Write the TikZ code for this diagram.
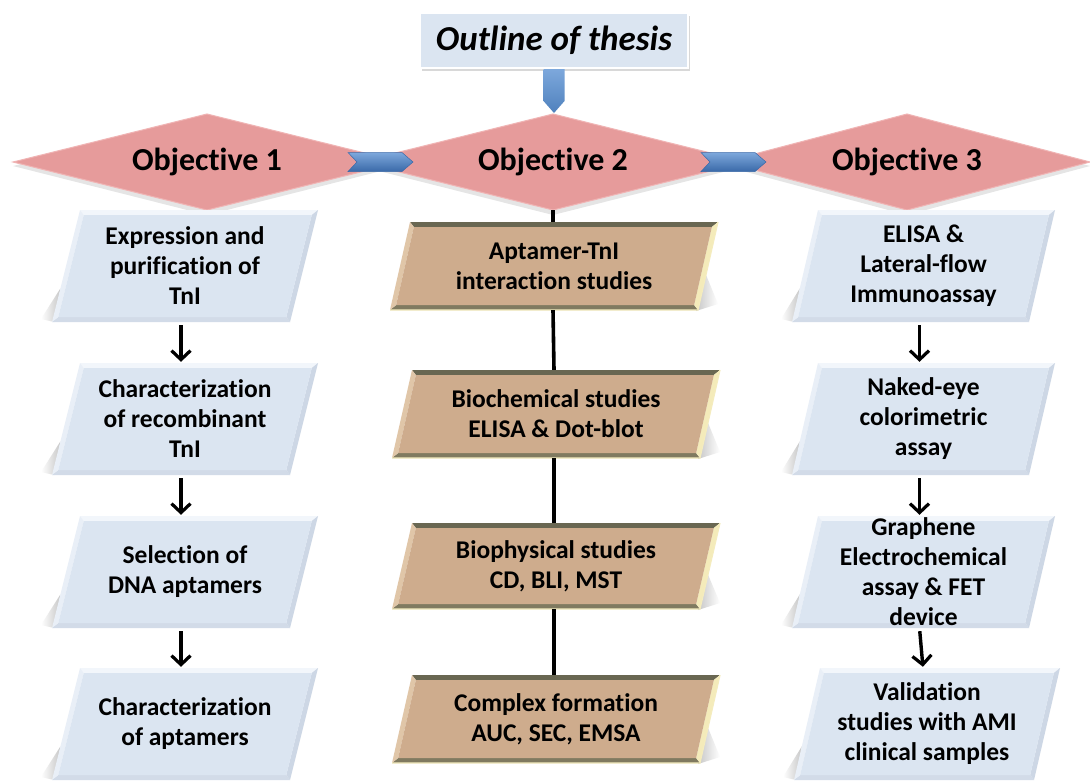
\documentclass[tikz,border=0pt]{standalone}
\usepackage{fontspec}
\setmainfont{Carlito}[Ligatures=NoCommon]
\usetikzlibrary{arrows.meta,calc,shadows}

\definecolor{blfill}{RGB}{219,229,241}
\definecolor{bltop}{RGB}{242,246,251}
\definecolor{blleft}{RGB}{233,239,247}
\definecolor{blright}{RGB}{205,215,229}
\definecolor{blbot}{RGB}{210,219,232}
\definecolor{brfill}{RGB}{206,172,141}
\definecolor{brtop}{RGB}{105,103,82}
\definecolor{brleft}{RGB}{224,198,168}
\definecolor{brright}{RGB}{244,235,186}
\definecolor{brbot}{RGB}{128,122,96}
\definecolor{bryel}{RGB}{244,236,190}
\definecolor{pinkd}{RGB}{230,155,155}
\definecolor{pinke}{RGB}{240,180,180}
\definecolor{arrblue}{RGB}{79,129,189}
\definecolor{arrlight}{RGB}{125,168,220}
\definecolor{arrdark}{RGB}{58,105,168}

\tikzset{
  boxtext/.style={align=center, inner sep=0pt, text=black,
    font=\bfseries\fontsize{25.5}{30}\selectfont},
  objtext/.style={inner sep=0pt, text=black,
    font=\bfseries\fontsize{32}{36}\selectfont},
  titlebox/.style={rectangle, fill=blfill, draw=white, line width=2pt,
    minimum width=268pt, minimum height=55pt, inner sep=0pt,
    drop shadow={opacity=.3, shadow xshift=2pt, shadow yshift=-3pt},
    font=\bfseries\itshape\fontsize{35}{40}\selectfont},
  arr/.style={line width=3.4pt, -{Straight Barb[length=9pt,width=19pt,line width=3.2pt]},
    shorten <=3pt, shorten >=1pt},
  vline/.style={line width=3.6pt},
  chevron/.style={top color=arrlight, bottom color=arrdark, draw=arrdark, line width=.5pt},
}

% parallelogram box with bevel: name, x0 (bottom-left x), top y, width, height, slant, scheme, text
\newcommand{\pbox}[8]{%
  \pgfmathsetmacro\pbB{#3+#5}%
  \pgfmathsetmacro\pbTLi{#2+#6*(#5-5)/#5+5}%
  \pgfmathsetmacro\pbBLi{#2+#6*5/#5+5}%
  \pgfmathsetmacro\pbTi{#3+5}%
  \pgfmathsetmacro\pbBi{#3+#5-5}%
  \pgfmathsetmacro\pbCx{#2+#6/2+#4/2}%
  \pgfmathsetmacro\pbCy{#3+#5/2}%
  \csname #7shadow\endcsname{#2}{#3}{#4}{#5}{#6}%
  \coordinate (BL) at (#2,\pbB);
  \coordinate (BR) at (#2+#4,\pbB);
  \coordinate (TR) at (#2+#6+#4,#3);
  \coordinate (TL) at (#2+#6,#3);
  \coordinate (iTL) at (\pbTLi,\pbTi);
  \coordinate (iTR) at (\pbTLi+#4-10,\pbTi);
  \coordinate (iBL) at (\pbBLi,\pbBi);
  \coordinate (iBR) at (\pbBLi+#4-10,\pbBi);
  \fill[#7top] (TL)--(TR)--(iTR)--(iTL)--cycle;
  \fill[#7bot] (BL)--(BR)--(iBR)--(iBL)--cycle;
  \fill[#7left] (TL)--(iTL)--(iBL)--(BL)--cycle;
  \fill[#7right] (TR)--(BR)--(iBR)--(iTR)--cycle;
  \fill[#7fill] (iTL)--(iTR)--(iBR)--(iBL)--cycle;
  \csname #7extra\endcsname
  \node[boxtext, minimum width=#4-20, minimum height=#5] (#1) at (\pbCx,\pbCy) {#8};
}
\newcommand{\blextra}{}
\newcommand{\brextra}{\draw[bryel, line width=1.2pt] (BL) -- (BR) -- (TR);}
\newcommand{\blshadow}[5]{%
  \shade[left color=white, right color=black!22]
    (#1+#5*0.3,#2+#4*0.7) -- (#1+2,#2+#4) -- (#1-11,#2+#4-3) -- cycle;}
\newcommand{\brshadow}[5]{%
  \shade[left color=black!22, right color=white]
    (#1+#3+#5*0.4,#2+#4*0.6) -- (#1+#3+20,#2+#4-6) -- (#1+#3-2,#2+#4+1) -- cycle;}

% diamond: name, cx, cy, half width, text
\newcommand{\diam}[5]{%
  \fill[black, opacity=.10] (#2-#4,#3+4) -- (#2,#3-44) -- (#2+#4,#3+4) -- (#2,#3+53) -- cycle;
  \fill[pinkd, draw=pinke, line width=1pt] (#2-#4,#3) -- (#2,#3-48) -- (#2+#4,#3) -- (#2,#3+48) -- cycle;
  \coordinate (#1b) at (#2,#3+48);
  \node[objtext] (#1) at (#2,#3) {#5};
}

\begin{document}
\begin{tikzpicture}[x=1pt, y=-1pt]
\useasboundingbox (0,0) rectangle (1090,780);
\fill[white] (0,0) rectangle (1090,780);
\clip (0,0) rectangle (1090,780);

% title
\node[titlebox] (title) at (554,40.5) {Outline of thesis};
\begin{scope}[shift={(title.south)}]
  \shade[top color=arrlight, bottom color=arrblue]
    (-10.5,0) -- (-10.5,32) -- (0,44) -- (10.5,32) -- (10.5,0) -- cycle;
\end{scope}

% objectives
\diam{obj1}{207}{162}{194}{Objective 1}
\diam{obj2}{553}{162}{194}{Objective 2}
\diam{obj3}{907}{162}{183}{Objective 3}

\coordinate (c12) at ($(obj1)!0.5!(obj2)$);
\coordinate (c23) at ($(obj2)!0.5!(obj3)$);
\begin{scope}[shift={(c12)}]
  \shade[chevron] (-32,-9.5) -- (22,-9.5) -- (33,0) -- (22,9.5) -- (-32,9.5) -- (-23,0) -- cycle;
\end{scope}
\begin{scope}[shift={(c23)}]
  \shade[chevron] (-29,-9.5) -- (25,-9.5) -- (36,0) -- (25,9.5) -- (-29,9.5) -- (-20,0) -- cycle;
\end{scope}

% left column
\pbox{l1}{52}{210}{238}{112}{28}{bl}{Expression and\\purification of\\TnI}
\pbox{l2}{52}{363}{238}{112}{28}{bl}{Characterization\\of recombinant\\TnI}
\pbox{l3}{52}{516}{238}{112}{28}{bl}{Selection of\\DNA aptamers}
\pbox{l4}{52}{668}{238}{112}{28}{bl}{Characterization\\of aptamers}

% middle column
\draw[vline] (obj2b) -- (553,222);
\pbox{m1}{390}{222}{308}{88}{20}{br}{Aptamer-TnI\\interaction studies}
\pbox{m2}{392}{370}{308}{88}{20}{br}{Biochemical studies\\ELISA \& Dot-blot}
\pbox{m3}{392}{523}{308}{86}{20}{br}{Biophysical studies\\CD, BLI, MST}
\pbox{m4}{392}{675}{308}{88}{20}{br}{Complex formation\\AUC, SEC, EMSA}

% right column
\pbox{r1}{792}{210}{237}{112}{26}{bl}{ELISA \&\\Lateral-flow\\Immunoassay}
\pbox{r2}{792}{363}{237}{112}{26}{bl}{Naked-eye\\colorimetric\\assay}
\pbox{r3}{792}{516}{237}{112}{26}{bl}{Graphene\\Electrochemical\\assay \& FET\\device}
\pbox{r4}{794}{668}{240}{112}{26}{bl}{Validation\\studies with AMI\\clinical samples}

% connectors
\draw[arr] ($(l1.south)+(-4,0)$) -- ($(l2.north)+(-4,0)$);
\draw[arr] ($(l2.south)+(-4,0)$) -- ($(l3.north)+(-4,0)$);
\draw[arr] ($(l3.south)+(-4,0)$) -- ($(l4.north)+(-4,0)$);

\draw[vline] ($(m1.south)+(-1,0)$) -- ($(m2.north)+(-2,0)$);
\draw[vline] ($(m2.south)+(-2,0)$) -- ($(m3.north)+(-2,0)$);
\draw[vline] ($(m3.south)+(-2,0)$) -- ($(m4.north)+(-2,0)$);

\draw[arr] ($(r1.south)+(-4,0)$) -- ($(r2.north)+(-4,0)$);
\draw[arr] ($(r2.south)+(-4,0)$) -- ($(r3.north)+(-4,0)$);
\draw[arr] ($(r3.south)+(-4,0)$) -- ($(r4.north)+(-4,0)$);
\end{tikzpicture}
\end{document}
